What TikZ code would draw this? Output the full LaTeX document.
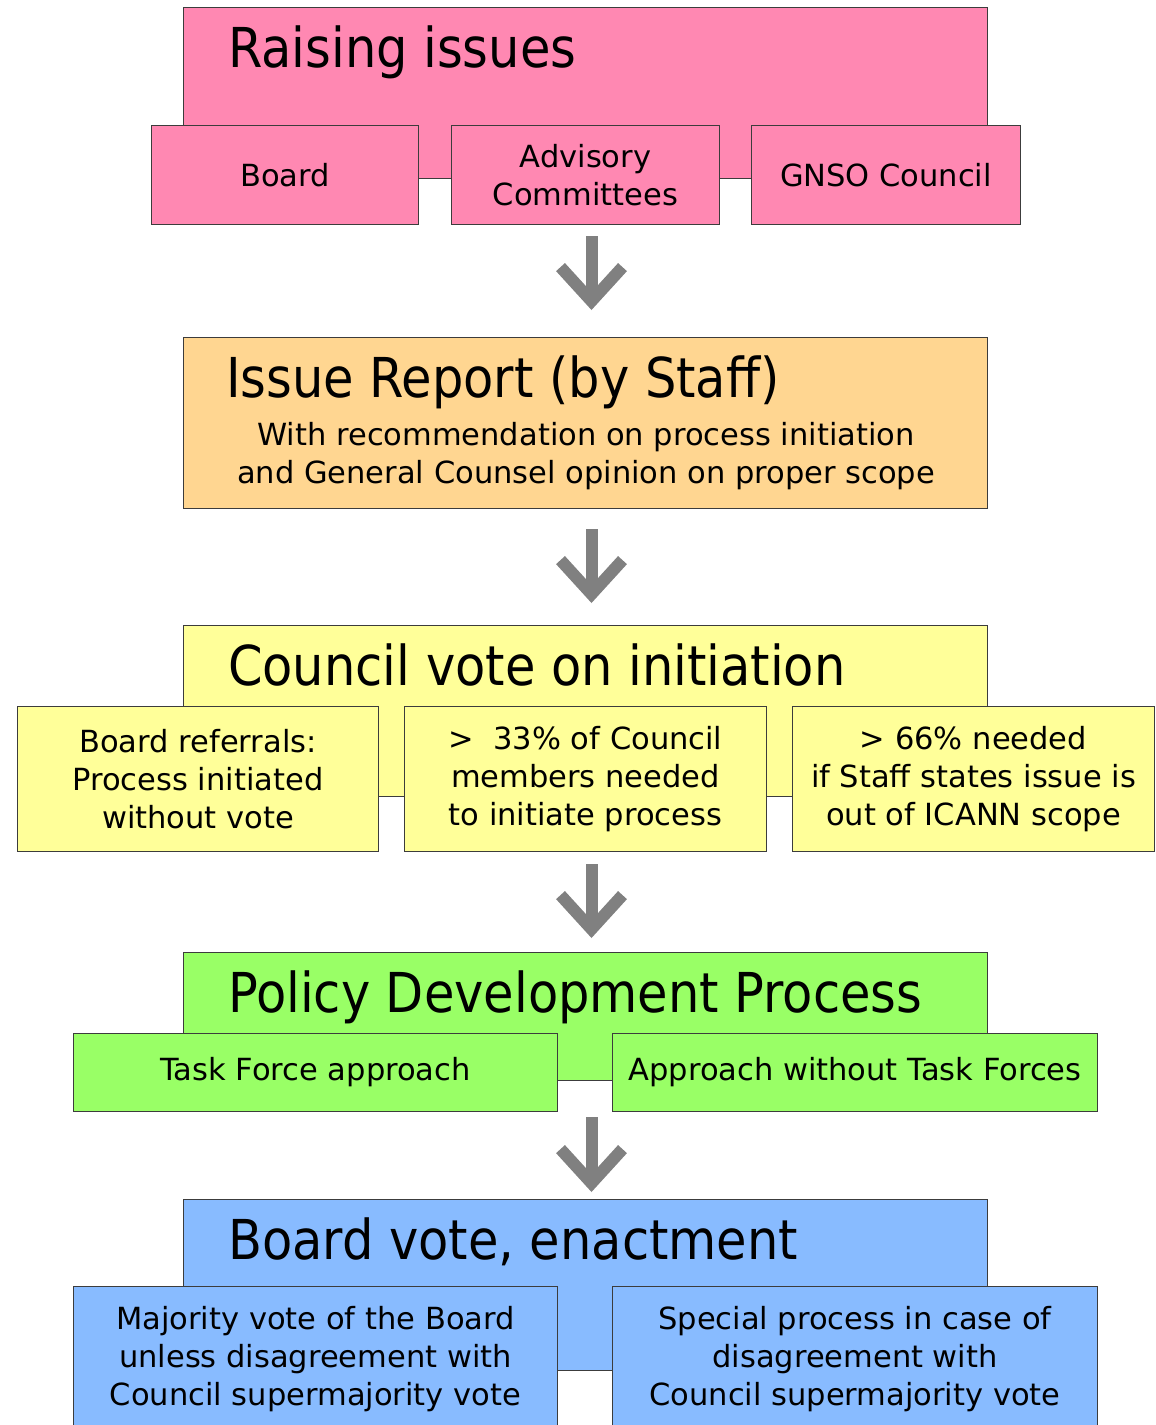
\documentclass[tikz,border=0pt]{standalone}
\usepackage{fontspec}
\setmainfont{DejaVu Sans}
\newfontfamily\condfamily{DejaVu Sans Condensed}
\usetikzlibrary{arrows.meta,calc}

\definecolor{raisepink}{RGB}{255,136,178}
\definecolor{reportorange}{RGB}{255,214,145}
\definecolor{voteyellow}{RGB}{255,255,153}
\definecolor{pdpgreen}{RGB}{153,255,102}
\definecolor{boardblue}{RGB}{136,187,255}
\definecolor{boxline}{RGB}{60,60,60}
\definecolor{arrowgray}{RGB}{128,128,128}

\newcommand{\titlefont}{\condfamily\fontsize{55}{60}\selectfont}
\newcommand{\subfont}{\fontsize{30.5}{37.8}\selectfont}

\begin{document}
\begin{tikzpicture}[x=1pt, y=-1pt,
    mainbox/.style={rectangle, draw=boxline, line width=1pt, anchor=north west, inner sep=0pt, minimum width=804pt, minimum height=171pt},
    subbox/.style={rectangle, draw=boxline, line width=1pt, anchor=north west, inner sep=0pt, align=center, font=\subfont},
    titletext/.style={anchor=base west, inner sep=0pt, font=\titlefont},
    flow/.style={draw=arrowgray, line width=12pt, -{Straight Barb[length=34pt, width=62pt]}}
]
    \useasboundingbox (0,0) rectangle (1156,1425);

    % Raising issues
    \node[mainbox, fill=raisepink] (raise) at (183,7) {};
    \node[titletext] (raisetitle) at (228,67) {Raising issues};
    \node[subbox, fill=raisepink, minimum width=267pt, minimum height=99pt] (board) at (151,125) {Board};
    \node[subbox, fill=raisepink, minimum width=268pt, minimum height=99pt] (advisory) at (451,125) {Advisory\\Committees};
    \node[subbox, fill=raisepink, minimum width=269pt, minimum height=99pt] (gnso) at (751,125) {GNSO Council};

    % Issue report
    \node[mainbox, fill=reportorange] (report) at (183,337) {};
    \node[titletext] (reporttitle) at (226,397) {Issue Report (by Staff)};
    \node[align=center, inner sep=0pt, font=\subfont, anchor=base] (reporttext) at (586,483) {With recommendation on process initiation\\and General Counsel opinion on proper scope};

    % Council vote
    \node[mainbox, fill=voteyellow] (vote) at (183,625) {};
    \node[titletext] (votetitle) at (228,685) {Council vote on initiation};
    \node[subbox, fill=voteyellow, minimum width=361pt, minimum height=145pt] (referral) at (17,706) {Board referrals:\\Process initiated\\without vote};
    \node[subbox, fill=voteyellow, minimum width=362pt, minimum height=145pt] (third) at (404,706) {>\ \ 33\% of Council\\members needed\\to initiate process};
    \node[subbox, fill=voteyellow, minimum width=362pt, minimum height=145pt] (twothirds) at (792,706) {> 66\% needed\\if Staff states issue is\\out of ICANN scope};

    % Policy development
    \node[mainbox, fill=pdpgreen, minimum height=128pt] (pdp) at (183,952) {};
    \node[titletext] (pdptitle) at (228,1012) {Policy Development Process};
    \node[subbox, fill=pdpgreen, minimum width=484pt, minimum height=78pt] (taskforce) at (73,1033) {Task Force approach};
    \node[subbox, fill=pdpgreen, minimum width=485pt, minimum height=78pt] (notaskforce) at (612,1033) {Approach without Task Forces};

    % Board vote
    \node[mainbox, fill=boardblue] (enact) at (183,1199) {};
    \node[titletext] (enacttitle) at (228,1259) {Board vote, enactment};
    \node[subbox, fill=boardblue, minimum width=484pt, minimum height=145pt] (majority) at (73,1286) {Majority vote of the Board\\unless disagreement with\\Council supermajority vote};
    \node[subbox, fill=boardblue, minimum width=485pt, minimum height=145pt] (special) at (612,1286) {Special process in case of\\disagreement with\\Council supermajority vote};

    % Flow arrows
    \draw[flow, shorten <=11pt, shorten >=27pt] ([xshift=6pt]advisory.south) -- ([xshift=6pt]report.north);
    \draw[flow, shorten <=20pt, shorten >=22pt] ([xshift=6pt]report.south) -- ([xshift=6pt]vote.north);
    \draw[flow, shorten <=12pt, shorten >=14pt] ([xshift=6pt]third.south) -- ([xshift=6pt]pdp.north);
    \draw[flow, shorten <=5pt, shorten >=7pt] ([xshift=6pt]taskforce.south -| pdp.south) -- ([xshift=6pt]enact.north);

\end{tikzpicture}
\end{document}
